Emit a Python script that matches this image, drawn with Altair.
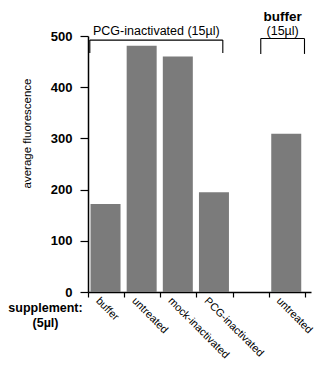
import json
import altair as alt
import pandas as pd

# ---- data ----
supplements = ["buffer", "untreated", "mock-inactivated", "PCG-inactivated", "", "untreated"]
fluorescence = [172, 481, 460, 195, None, 309]
y_ticks = [0, 100, 200, 300, 400, 500]
slot_edges = [0, 1, 2, 3, 4, 5, 6]

bracket_text = ["PCG-inactivated (15µl)", "(15µl)"]
bracket_head = ["", "buffer"]
bracket_from = [0.05, 4.78]
bracket_to = [3.73, 5.99]
bracket_top = [492, 495]
bracket_foot = [467, 465]

FONT = "Liberation Sans"

bars = pd.DataFrame(
    [
        {"slot": i, "supplement": s, "value": v, "start": i + 0.07, "end": i + 0.9}
        for i, (s, v) in enumerate(zip(supplements, fluorescence))
        if v is not None
    ]
)

brk = pd.DataFrame(
    {
        "label": bracket_text,
        "head": bracket_head,
        "x1": bracket_from,
        "x2": bracket_to,
        "top": bracket_top,
        "foot": bracket_foot,
    }
)
brk["mid"] = (brk["x1"] + brk["x2"]) / 2
brk["labely"] = [510, 510]
brk["heady"] = [538, 538]

legs = pd.concat(
    [
        brk[["x1", "top", "foot"]].rename(columns={"x1": "x"}),
        brk[["x2", "top", "foot"]].rename(columns={"x2": "x"}),
    ]
)

label_js = json.dumps(supplements).replace('"', "'")

x_scale = alt.Scale(domain=[0, 6.17], nice=False, zero=False)
y_scale = alt.Scale(domain=[0, 500], nice=False)

x_axis = alt.Axis(
    values=slot_edges,
    labelExpr=f"{label_js}[datum.value] || ''",
    labelAngle=45,
    labelAlign="left",
    labelBaseline="middle",
    labelOffset=9,
    labelPadding=2,
    labelFont=FONT,
    labelFontSize=10.8,
    labelColor="black",
    labelFlush=False,
    labelOverlap=False,
    labelBound=False,
    tickSize=5,
    tickColor="black",
    tickWidth=1.2,
    domainColor="black",
    domainWidth=1.5,
    grid=False,
    title=["supplement:", "(5µl)"],
    titleX=-43,
    titleY=9,
    titleAlign="center",
    titleBaseline="top",
    titleAngle=0,
    titleFont=FONT,
    titleFontSize=12.5,
    titleFontWeight="bold",
    titleLineHeight=15,
    titleColor="black",
)

y_axis = alt.Axis(
    values=y_ticks,
    tickSize=8,
    tickColor="black",
    tickWidth=1.2,
    domainColor="black",
    domainWidth=1.5,
    labelFont=FONT,
    labelFontSize=13,
    labelFontWeight="bold",
    labelColor="black",
    labelPadding=8,
    grid=False,
    title="average fluorescence",
    titleX=-61,
    titleY=97,
    titleAngle=270,
    titleAlign="center",
    titleBaseline="middle",
    titleFont=FONT,
    titleFontSize=11.5,
    titleFontWeight="normal",
    titleColor="black",
)

bar_layer = alt.Chart(bars).mark_rect(color="#7b7b7b").encode(
    x=alt.X("start:Q", scale=x_scale, axis=x_axis),
    x2="end:Q",
    y=alt.Y("value:Q", scale=y_scale, axis=y_axis),
    y2=alt.datum(0),
)

hrule = alt.Chart(brk).mark_rule(color="black", strokeWidth=1.1).encode(
    x=alt.X("x1:Q", scale=x_scale, axis=x_axis),
    x2="x2:Q",
    y=alt.Y("top:Q", scale=y_scale, axis=y_axis),
)

vrule = alt.Chart(legs).mark_rule(color="black", strokeWidth=1.1).encode(
    x=alt.X("x:Q", scale=x_scale, axis=x_axis),
    y=alt.Y("top:Q", scale=y_scale, axis=y_axis),
    y2="foot:Q",
)

label_layer = alt.Chart(brk).mark_text(
    font=FONT, fontSize=12.5, color="black", baseline="middle", align="center"
).encode(
    x=alt.X("mid:Q", scale=x_scale, axis=x_axis),
    y=alt.Y("labely:Q", scale=y_scale, axis=y_axis),
    text="label:N",
)

head_layer = alt.Chart(brk).mark_text(
    font=FONT, fontSize=13.5, fontWeight="bold", color="black", baseline="middle", align="center"
).encode(
    x=alt.X("mid:Q", scale=x_scale, axis=x_axis),
    y=alt.Y("heady:Q", scale=y_scale, axis=y_axis),
    text="head:N",
)

chart = (
    alt.layer(bar_layer, hrule, vrule, label_layer, head_layer)
    .properties(
        width=223,
        height=256,
        padding={"left": 80, "top": 28, "right": 4, "bottom": 71},
        autosize=alt.AutoSizeParams(type="none"),
        background="white",
    )
    .configure_view(stroke=None)
)

chart.save("out.html", embed_options={"renderer": "svg", "actions": False})
